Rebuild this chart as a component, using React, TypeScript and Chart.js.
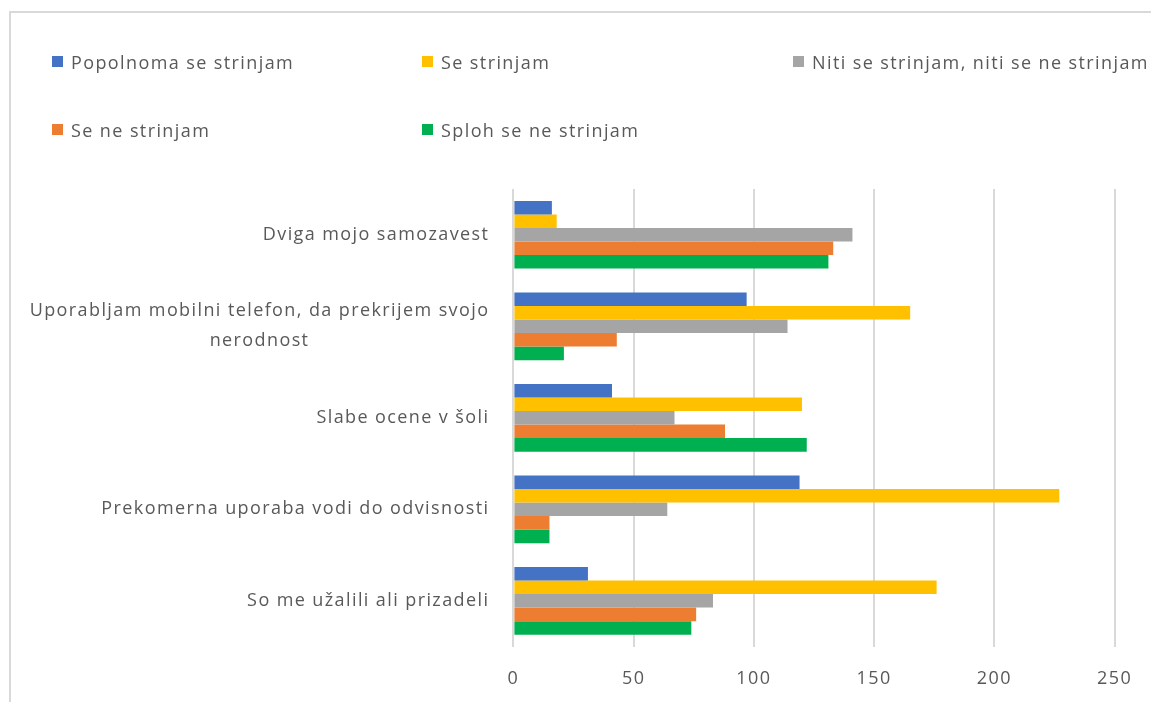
import React, { useEffect, useRef } from "react";
import { Chart, registerables } from "chart.js";

Chart.register(...registerables);

const categories: (string | string[])[] = [
  "Dviga mojo samozavest",
  ["Uporabljam mobilni telefon, da prekrijem svojo", "nerodnost"],
  "Slabe ocene v šoli",
  "Prekomerna uporaba vodi do odvisnosti",
  "So me užalili ali prizadeli",
];

const seriesNames = [
  "Popolnoma se strinjam",
  "Se strinjam",
  "Niti se strinjam, niti se ne strinjam",
  "Se ne strinjam",
  "Sploh se ne strinjam",
];

const popolnoma = [16, 97, 41, 119, 31];
const seStrinjam = [18, 165, 120, 227, 176];
const niti = [141, 114, 67, 64, 83];
const seNe = [133, 43, 88, 15, 76];
const sploh = [131, 21, 122, 15, 74];

const seriesValues = [popolnoma, seStrinjam, niti, seNe, sploh];
const seriesColors = ["#4472C4", "#FFC000", "#A5A5A5", "#ED7D31", "#00B050"];

const xTicks = [0, 50, 100, 150, 200, 250];

const FONT = '"Open Sans", sans-serif';
const TEXT = "#595959";
const LS = "1.4px";

const legendCols = [71, 441, 812];
const legendRows = [62, 130];

const spacingPlugin = {
  id: "spacing",
  beforeDraw(chart: any) {
    chart.ctx.letterSpacing = LS;
  },
  afterDraw(chart: any) {
    chart.ctx.letterSpacing = "0px";
  },
};

const yLabelPlugin = {
  id: "yLabels",
  afterDraw(chart: any) {
    const ctx = chart.ctx;
    const yScale = chart.scales.y;
    const right = chart.chartArea.left - 24;
    ctx.save();
    ctx.letterSpacing = LS;
    ctx.font = `18px ${FONT}`;
    ctx.fillStyle = TEXT;
    ctx.textBaseline = "middle";
    ctx.textAlign = "left";
    const lineH = 30;
    categories.forEach((lab, i) => {
      const lines = Array.isArray(lab) ? lab : [lab];
      const yc = yScale.getPixelForValue(i);
      const widths = lines.map((l) => ctx.measureText(l).width);
      const maxW = Math.max(...widths);
      const cx = right - maxW / 2;
      lines.forEach((ln, j) => {
        ctx.fillText(ln, cx - widths[j] / 2, yc + (j - (lines.length - 1) / 2) * lineH);
      });
    });
    ctx.restore();
  },
};

export default function App() {
  const ref = useRef<HTMLCanvasElement | null>(null);

  useEffect(() => {
    document.body.style.margin = "0";
    if (!ref.current) return;
    const chart = new Chart(ref.current, {
      type: "bar",
      data: {
        labels: categories.map((c) => (Array.isArray(c) ? c.join(" ") : c)),
        datasets: seriesNames.map((name, i) => ({
          label: name,
          data: seriesValues[i],
          backgroundColor: seriesColors[i],
          borderWidth: 0,
          categoryPercentage: 0.74,
          barPercentage: 1.0,
        })),
      },
      options: {
        indexAxis: "y",
        animation: false,
        responsive: false,
        maintainAspectRatio: false,
        layout: { padding: { top: 189, right: 35, bottom: 0, left: 0 } },
        plugins: {
          legend: { display: false },
          tooltip: { enabled: false },
        },
        scales: {
          x: {
            min: 0,
            max: 250,
            afterBuildTicks: (scale: any) => {
              scale.ticks = xTicks.map((v) => ({ value: v }));
            },
            afterFit: (scale: any) => {
              scale.height = 55.4;
            },
            grid: {
              color: "#d9d9d9",
              lineWidth: 2,
              drawTicks: false,
            },
            border: { display: false },
            ticks: {
              padding: 21,
              color: TEXT,
              font: { family: FONT, size: 18 },
            },
          },
          y: {
            afterFit: (scale: any) => {
              scale.width = 513.4;
            },
            grid: { display: false, drawTicks: false },
            border: { display: false },
            ticks: { display: false },
          },
        },
      },
      plugins: [spacingPlugin, yLabelPlugin],
    } as any);
    return () => chart.destroy();
  }, []);

  return (
    <div style={{ position: "relative", width: 1151, height: 702, overflow: "hidden", background: "#fff" }}>
      <div
        style={{
          position: "absolute",
          left: 9,
          top: 11,
          right: -4,
          bottom: -4,
          borderLeft: "2px solid #d9d9d9",
          borderTop: "2px solid #d9d9d9",
        }}
      />
      <canvas ref={ref} width={1151} height={702} style={{ position: "absolute", left: 0, top: 0 }} />
      {seriesNames.map((name, i) => {
        const col = i < 3 ? i : i - 3;
        const row = i < 3 ? 0 : 1;
        const tx = legendCols[col];
        const cy = legendRows[row];
        return (
          <div key={name}>
            <div
              style={{
                position: "absolute",
                left: tx - 19,
                top: cy - 6,
                width: 11,
                height: 11,
                background: seriesColors[i],
              }}
            />
            <div
              style={{
                position: "absolute",
                left: tx,
                top: cy - 13,
                height: 26,
                lineHeight: "26px",
                fontFamily: FONT,
                fontSize: 18,
                letterSpacing: LS,
                color: TEXT,
                whiteSpace: "nowrap",
              }}
            >
              {name}
            </div>
          </div>
        );
      })}
    </div>
  );
}
